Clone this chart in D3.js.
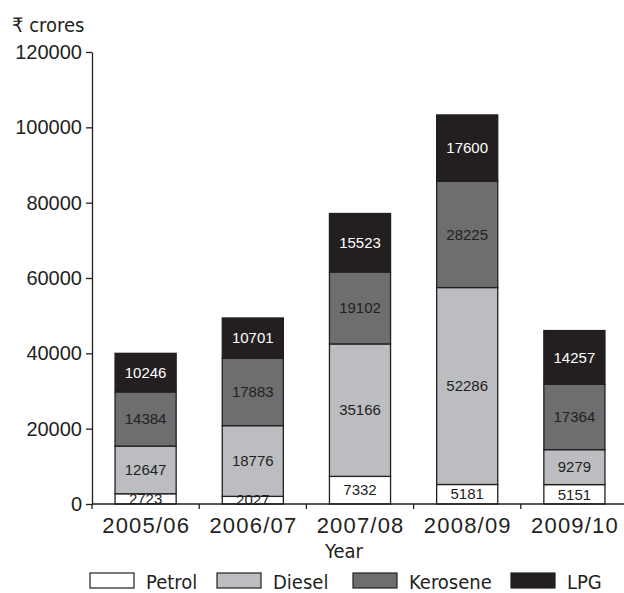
<!DOCTYPE html>
<html>
<head>
<meta charset="utf-8">
<script src="https://cdn.jsdelivr.net/npm/d3@7"></script>
<style>
  html, body { margin: 0; padding: 0; background: #fff; }
  svg { display: block; font-family: "Liberation Sans", "Noto Sans", sans-serif; }
  .narrow { font-family: "DejaVu Sans Condensed", "DejaVu Sans", sans-serif; font-stretch: condensed; }
</style>
</head>
<body>
<svg id="chart" width="624" height="593"></svg>
<script>
// Under-recoveries on sensitive petroleum products, ₹ crores
const years = ["2005/06", "2006/07", "2007/08", "2008/09", "2009/10"];
const products = ["Petrol", "Diesel", "Kerosene", "LPG"];
const petrol   = [2723, 2027, 7332, 5181, 5151];
const diesel   = [12647, 18776, 35166, 52286, 9279];
const kerosene = [14384, 17883, 19102, 28225, 17364];
const lpg      = [10246, 10701, 15523, 17600, 14257];
const yTicks   = [0, 20000, 40000, 60000, 80000, 100000, 120000];

const fills = { Petrol: "#ffffff", Diesel: "#bcbdc0", Kerosene: "#6d6e70", LPG: "#231f20" };
const labelColors = { Petrol: "#231f20", Diesel: "#231f20", Kerosene: "#231f20", LPG: "#ffffff" };
const ink = "#231f20";

const rows = years.map((yr, i) => ({
  year: yr,
  Petrol: petrol[i], Diesel: diesel[i], Kerosene: kerosene[i], LPG: lpg[i]
}));

const svg = d3.select("#chart");
const plotLeft = 92, plotRight = 628, plotTop = 52, plotBottom = 504;

const x = d3.scaleBand().domain(years).range([plotLeft, plotRight]).paddingInner(0.43).paddingOuter(0.215);
const y = d3.scaleLinear().domain([0, 120000]).range([plotBottom, plotTop]);

const stacked = d3.stack().keys(products)(rows);

// Bars
const layer = svg.append("g").selectAll("g").data(stacked).join("g")
  .attr("fill", d => fills[d.key]);

layer.selectAll("rect").data(d => d).join("rect")
  .attr("x", d => x(d.data.year))
  .attr("width", x.bandwidth())
  .attr("y", d => y(d[1]))
  .attr("height", d => y(d[0]) - y(d[1]))
  .attr("stroke", ink)
  .attr("stroke-width", 1.3);

// Value labels inside segments
svg.append("g").selectAll("g").data(stacked).join("g")
  .attr("fill", d => labelColors[d.key])
  .selectAll("text").data(d => d).join("text")
  .attr("x", d => x(d.data.year) + x.bandwidth() / 2)
  .attr("y", d => (y(d[0]) + y(d[1])) / 2)
  .attr("dy", "0.35em")
  .attr("text-anchor", "middle")
  .attr("font-size", 15)
  .text(d => d[1] - d[0]);

// Y axis
const yAxis = svg.append("g")
  .attr("transform", `translate(${plotLeft},0)`)
  .call(d3.axisLeft(y).tickValues(yTicks).tickFormat(d3.format("d")).tickSize(6).tickSizeOuter(0));
yAxis.select(".domain").attr("stroke", ink).attr("stroke-width", 1.3);
yAxis.selectAll(".tick line").attr("stroke", ink).attr("stroke-width", 1.3);
yAxis.selectAll(".tick text").attr("fill", ink).attr("font-size", 20)
  .attr("font-family", "Liberation Sans, sans-serif").attr("x", -10);

// X axis with ticks at category boundaries
const xAxis = svg.append("g").attr("transform", `translate(0,${plotBottom})`);
xAxis.append("line").attr("x1", plotLeft).attr("x2", 624).attr("y1", 0).attr("y2", 0)
  .attr("stroke", ink).attr("stroke-width", 1.3);
const step = x.step();
const bounds = years.map(yr => x(yr) - x.paddingInner() * step / 2);
xAxis.selectAll("line.tk").data(bounds).join("line").attr("class", "tk")
  .attr("x1", d => d).attr("x2", d => d).attr("y1", 0).attr("y2", 5)
  .attr("stroke", ink).attr("stroke-width", 1.3);
xAxis.selectAll("text").data(years).join("text")
  .attr("x", d => x(d) + x.bandwidth() / 2 + 0.6)
  .attr("y", 29)
  .attr("text-anchor", "middle")
  .attr("font-size", 22)
  .attr("letter-spacing", 1.2)
  .attr("fill", ink)
  .text(d => d);

// Axis titles
svg.append("text").attr("class", "narrow").attr("x", 344).attr("y", 558).attr("text-anchor", "middle")
  .attr("font-size", 20).attr("fill", ink).text("Year");
svg.append("text").attr("class", "narrow").attr("x", 12).attr("y", 32)
  .attr("font-size", 20).attr("fill", ink).text("₹ crores");

// Legend
const legendX = [90, 217, 353, 511];
const legend = svg.append("g").selectAll("g").data(products).join("g")
  .attr("transform", (d, i) => `translate(${legendX[i]},573)`);
legend.append("rect").attr("width", 44).attr("height", 15)
  .attr("fill", d => fills[d]).attr("stroke", ink).attr("stroke-width", 1.2);
legend.append("text").attr("class", "narrow").attr("x", 56).attr("y", 15.5)
  .attr("font-size", 20).attr("fill", ink).text(d => d);
</script>
</body>
</html>
